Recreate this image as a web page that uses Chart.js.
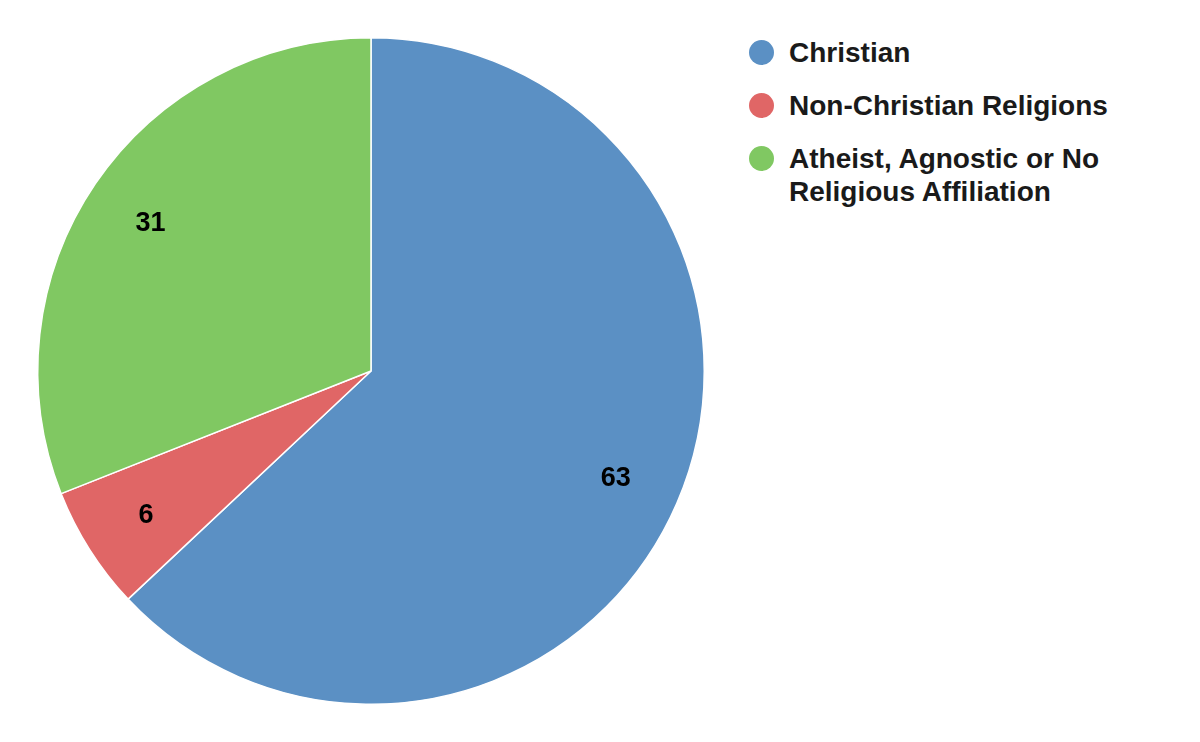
<!DOCTYPE html>
<html>
<head>
<meta charset="utf-8">
<script src="https://cdn.jsdelivr.net/npm/chart.js@4"></script>
<style>
  body { margin: 0; background: #fff; font-family: "Liberation Sans", Arial, sans-serif; }
  #wrap { position: relative; width: 1200px; height: 742px; }
  #box { position: absolute; left: 0; top: 0; width: 742px; height: 742px; }
  #legend { position: absolute; left: 749px; top: 36px; width: 440px; }
  .item { display: flex; align-items: flex-start; margin-bottom: 20px; }
  .dot { width: 25px; height: 25px; border-radius: 50%; flex: none; margin-top: 4px; margin-right: 15px; }
  .txt { font-weight: bold; font-size: 28px; line-height: 33px; color: #1a1a1a; }
</style>
</head>
<body>
<div id="wrap">
  <div id="box"><canvas id="pieChart"></canvas></div>
  <div id="legend"></div>
</div>
<script>
const categories = ["Christian", "Non-Christian Religions", "Atheist, Agnostic or No Religious Affiliation"];
const values = [63, 6, 31];
const colors = ["#5b90c4", "#e06666", "#80c862"];

// numbers on the slices
const sliceLabels = {
    id: "sliceLabels",
    afterDatasetsDraw(chart) {
        const c = chart.ctx;
        const meta = chart.getDatasetMeta(0);
        c.save();
        c.font = "bold 27px 'Liberation Sans', Arial, sans-serif";
        c.fillStyle = "#000";
        c.textAlign = "center";
        c.textBaseline = "middle";
        meta.data.forEach((arc, i) => {
            const p = arc.getProps(["x", "y", "startAngle", "endAngle", "outerRadius"], true);
            const mid = (p.startAngle + p.endAngle) / 2;
            const r = p.outerRadius * 0.8;
            c.fillText(values[i], p.x + Math.cos(mid) * r, p.y + Math.sin(mid) * r + 2);
        });
        c.restore();
    }
};

const ctx = document.getElementById("pieChart").getContext("2d");

new Chart(ctx, {
    type: "pie",
    data: {
        labels: categories,
        datasets: [{
            data: values,
            backgroundColor: colors,
            borderColor: "#fff",
            borderWidth: 1.5
        }]
    },
    options: {
        responsive: true,
        maintainAspectRatio: false,
        animation: false,
        layout: { padding: 37 },
        plugins: {
            legend: { display: false },
            tooltip: { enabled: false }
        }
    },
    plugins: [sliceLabels]
});

const legend = document.getElementById("legend");
categories.forEach((name, i) => {
    const row = document.createElement("div");
    row.className = "item";
    const dot = document.createElement("span");
    dot.className = "dot";
    dot.style.background = colors[i];
    const txt = document.createElement("span");
    txt.className = "txt";
    txt.textContent = name;
    row.appendChild(dot);
    row.appendChild(txt);
    legend.appendChild(row);
});
</script>
</body>
</html>
